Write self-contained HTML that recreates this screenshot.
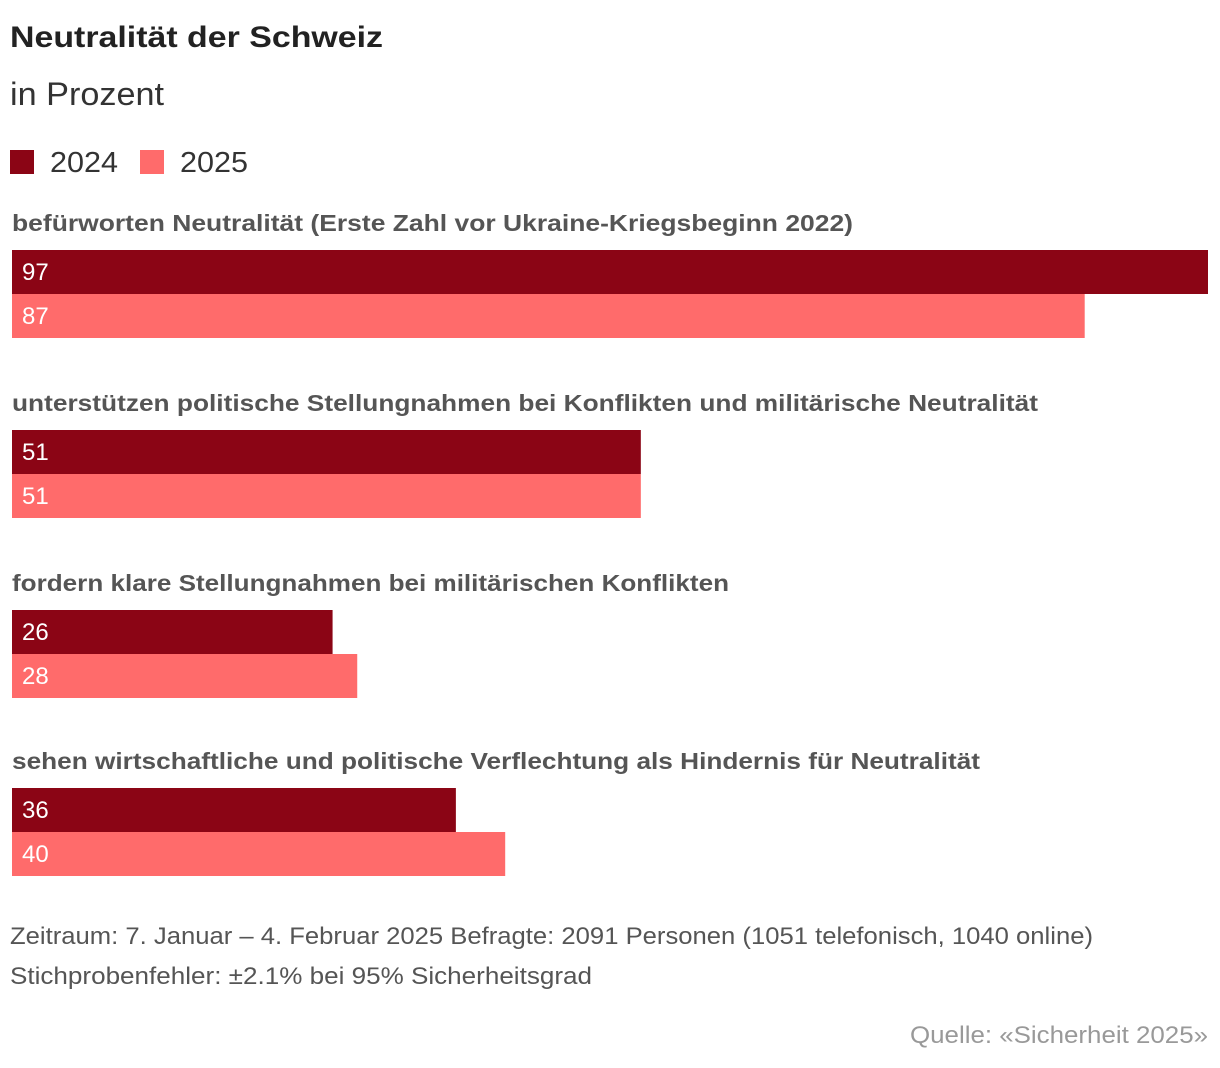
<!DOCTYPE html>
<html><head><meta charset="utf-8"><style>
html,body{margin:0;padding:0;background:#fff;width:1220px;height:1068px;overflow:hidden}
svg{display:block;font-family:"Liberation Sans",sans-serif}
</style></head><body>
<svg id="chart" width="1220" height="1068">
<text x="10" y="47" font-size="30" font-weight="bold" fill="#222" textLength="373" lengthAdjust="spacingAndGlyphs">Neutralität der Schweiz</text>
<text x="10" y="105" font-size="32" fill="#333" textLength="154" lengthAdjust="spacingAndGlyphs">in Prozent</text>
<rect x="10" y="150" width="24" height="24" fill="#8b0515"/>
<text x="50" y="172" font-size="29" fill="#333" textLength="68" lengthAdjust="spacingAndGlyphs">2024</text>
<rect x="140" y="150" width="24" height="24" fill="#ff6b6b"/>
<text x="180" y="172" font-size="29" fill="#333" textLength="68" lengthAdjust="spacingAndGlyphs">2025</text>
<g id="bars"></g>
<text x="10" y="944" font-size="24" fill="#555" textLength="1083" lengthAdjust="spacingAndGlyphs">Zeitraum: 7. Januar – 4. Februar 2025 Befragte: 2091 Personen (1051 telefonisch, 1040 online)</text>
<text x="10" y="984" font-size="24" fill="#555" textLength="582" lengthAdjust="spacingAndGlyphs">Stichprobenfehler: ±2.1% bei 95% Sicherheitsgrad</text>
<text x="1208" y="1043" font-size="24" fill="#999" text-anchor="end" textLength="298" lengthAdjust="spacingAndGlyphs">Quelle: «Sicherheit 2025»</text>
</svg>
<script>
const categories=["befürworten Neutralität (Erste Zahl vor Ukraine-Kriegsbeginn 2022)","unterstützen politische Stellungnahmen bei Konflikten und militärische Neutralität","fordern klare Stellungnahmen bei militärischen Konflikten","sehen wirtschaftliche und politische Verflechtung als Hindernis für Neutralität"];
const values2024=[97,51,26,36];
const values2025=[87,51,28,40];
const labelWidths=[841,1026,717,968];
const NS="http://www.w3.org/2000/svg";
const g=document.getElementById('bars');
const x0=12, maxV=97, maxW=1196;
const xs=v=>v/maxV*maxW;
const groupTop=[250,430,610,788];
function mk(t,a){const e=document.createElementNS(NS,t);for(const k in a)e.setAttribute(k,a[k]);g.appendChild(e);return e;}
categories.forEach((c,i)=>{
  const y=groupTop[i];
  const l=mk('text',{x:12,y:y-19,'font-size':23,'font-weight':'bold',fill:'#555',textLength:labelWidths[i],lengthAdjust:'spacingAndGlyphs'});
  l.textContent=c;
  
  
  [[values2024[i],'#8b0515','2024'],[values2025[i],'#ff6b6b','2025']].forEach((s,j)=>{
    const r=mk('rect',{x:x0,y:y+j*44,width:xs(s[0]),height:44,fill:s[1]});
    
    
    const t=mk('text',{x:22,y:y+j*44+30,'font-size':24,fill:'#fff'});
    t.textContent=s[0];
    
    
  });
});
</script>
</body></html>
